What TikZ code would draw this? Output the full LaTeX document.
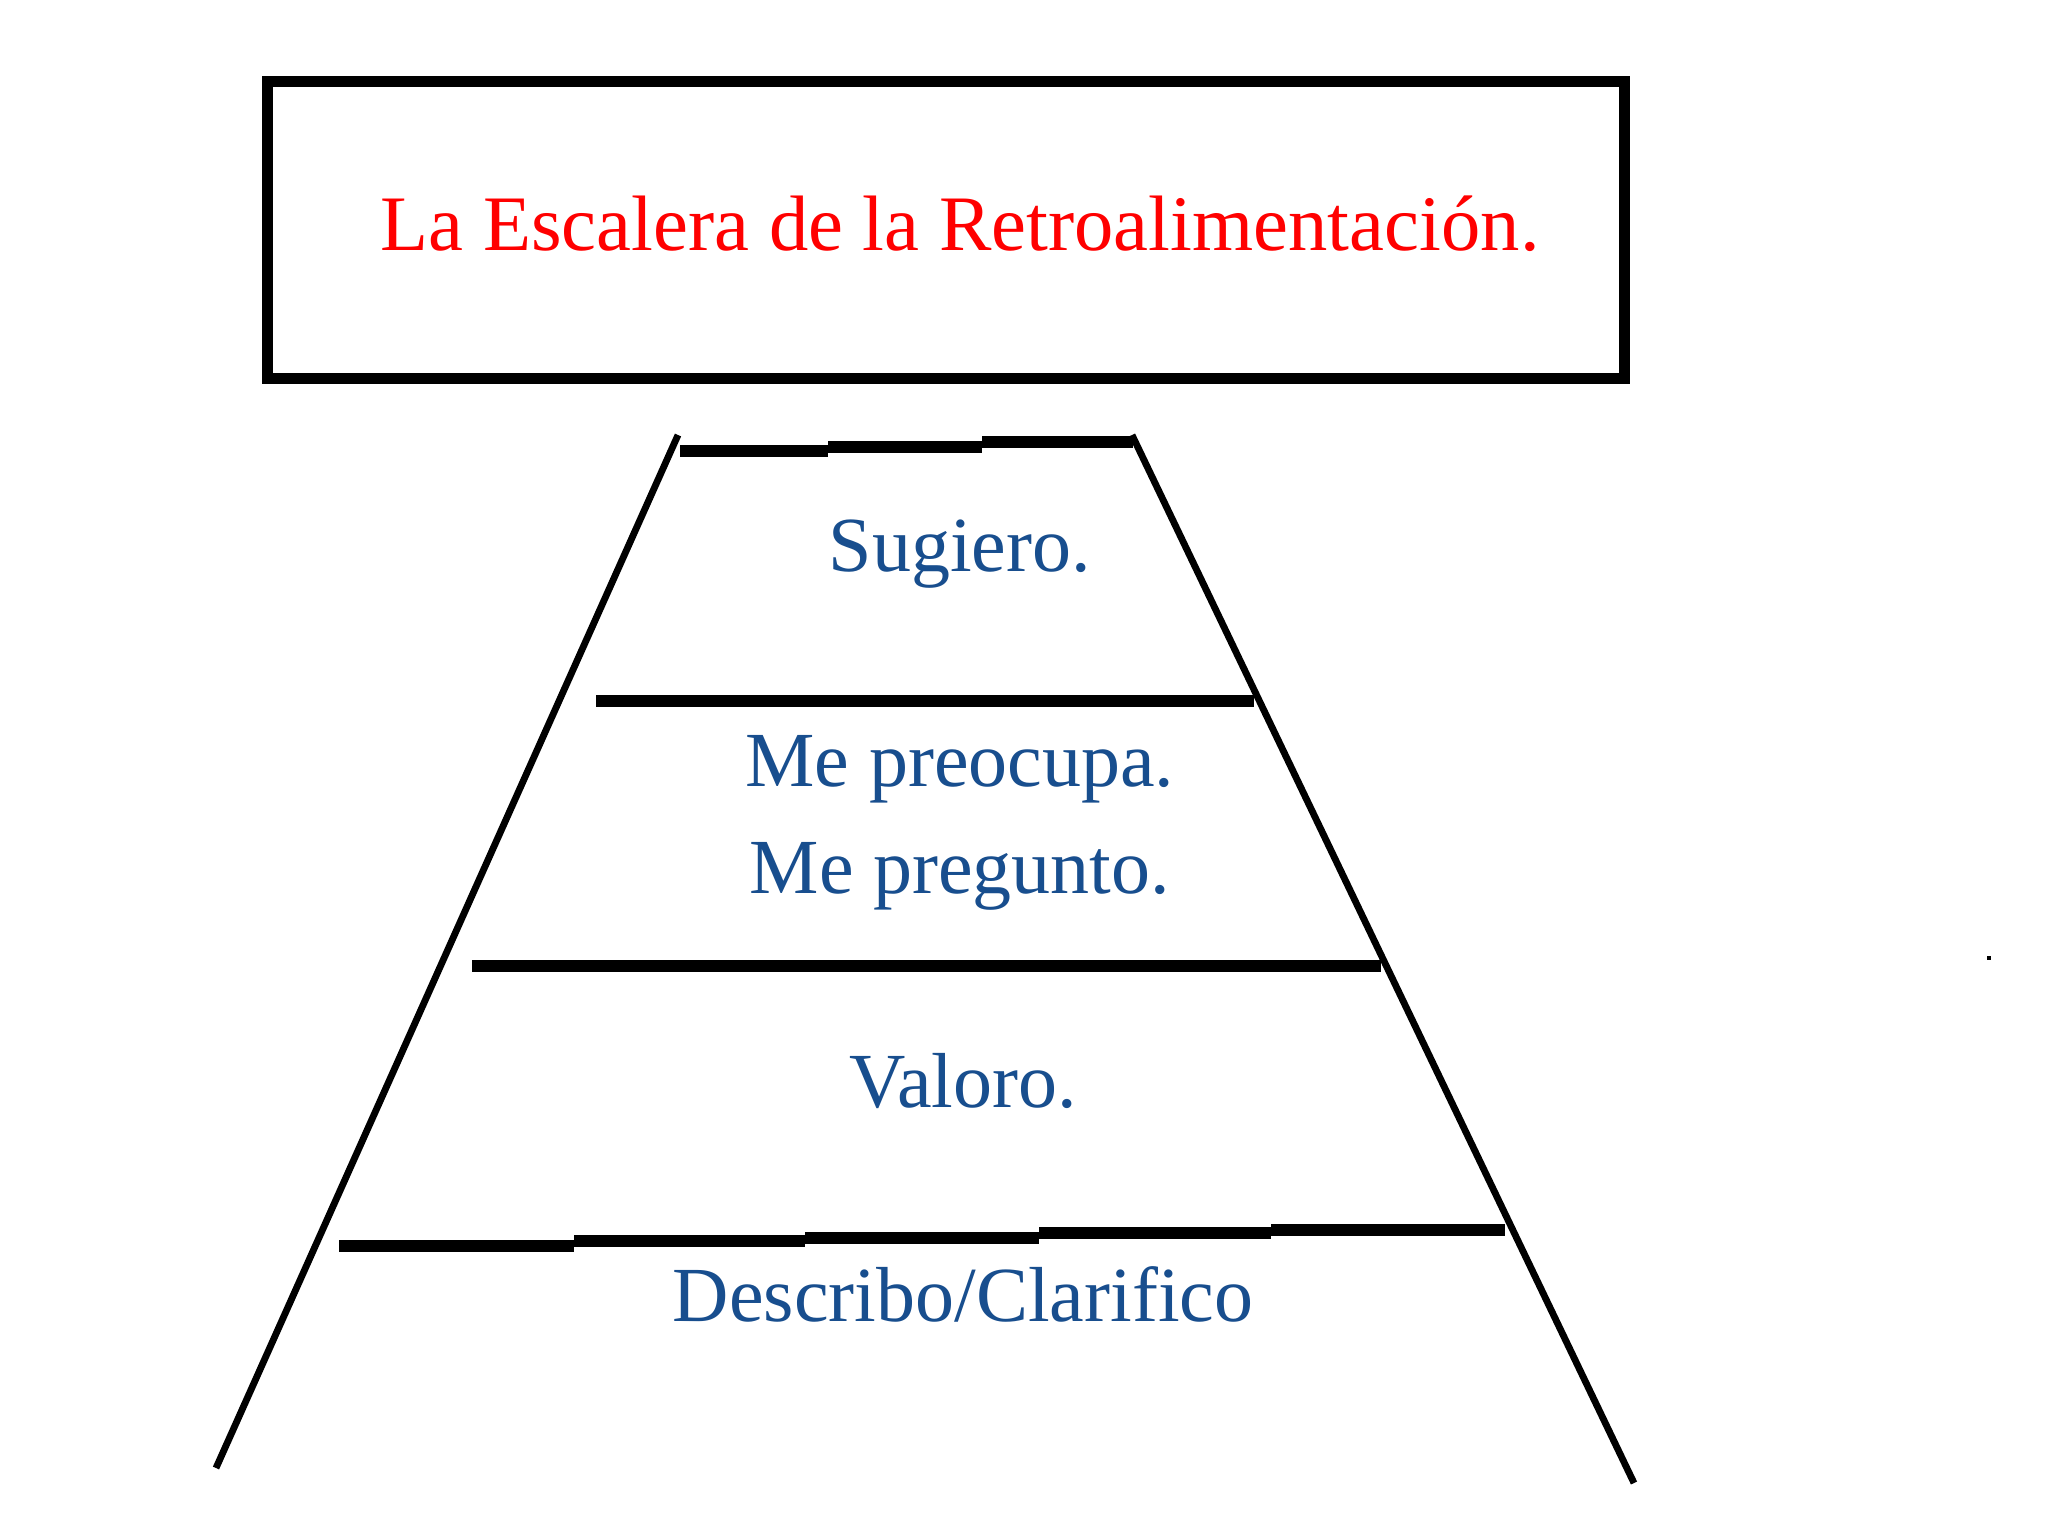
\documentclass[tikz,border=0pt]{standalone}
\usepackage{fontspec}
\setmainfont{Liberation Serif}
\definecolor{rojo}{RGB}{255,0,0}
\definecolor{azul}{RGB}{24,78,142}

\begin{document}
\begin{tikzpicture}[x=0.5pt,y=-0.5pt,
  marco/.style={line width=5.5pt},
  larguero/.style={line width=3.4pt},
  peldano/.style={line width=5.8pt},
  etiqueta/.style={text=azul,anchor=base,inner sep=0pt,font=\fontsize{39}{46}\selectfont}]
  \useasboundingbox[fill=white] (0,0) rectangle (2048,1536);
  \draw[marco] (267,82) rectangle (1624,378);
  \node[anchor=base,inner sep=0pt,text=rojo,font=\fontsize{39.3}{46}\selectfont] (titulo) at (960,250) {La Escalera de la Retroalimentación.};
  % largueros
  \draw[larguero] (678,435) -- (216,1468);
  \draw[larguero] (1132,435) -- (1634,1483);
  % peldanos
  \draw[peldano] (680,451) -- (828,451) (828,447) -- (982,447) (982,442) -- (1133,442);
  \draw[peldano] (596,701) -- (1254,701);
  \draw[peldano] (472,966) -- (1381,966);
  \draw[peldano] (339,1246) -- (574,1246) (574,1241) -- (805,1241) (805,1238) -- (1039,1238)
    (1039,1233) -- (1271,1233) (1271,1230) -- (1505,1230);
  \node[etiqueta] (sugiero) at (960,571) {Sugiero.};
  \node[etiqueta] (preocupa) at (960,786) {Me preocupa.};
  \node[etiqueta] (pregunto) at (960,893) {Me pregunto.};
  \node[etiqueta] (valoro) at (963,1107) {Valoro.};
  \node[etiqueta] (describo) at (963,1321) {Describo/Clarifico};
  \fill (1987,956) rectangle (1991,960);
\end{tikzpicture}
\end{document}
